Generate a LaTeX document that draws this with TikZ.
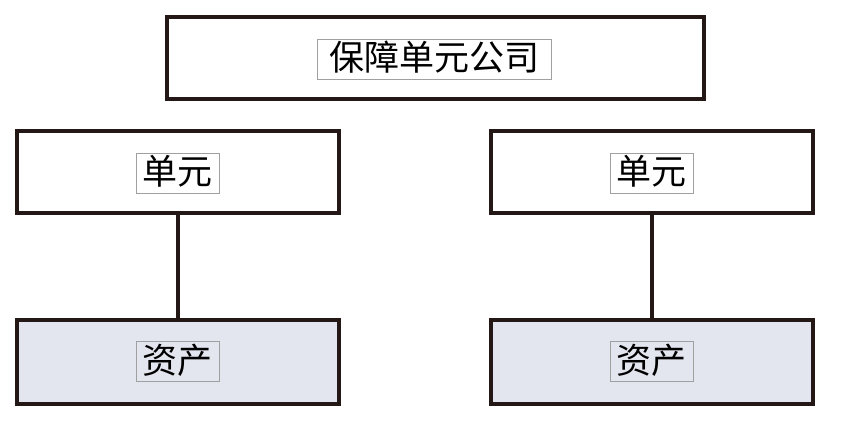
\documentclass[tikz,border=0pt]{standalone}
\usepackage{fontspec}
\newfontfamily\cjk{Noto Sans CJK SC}
\definecolor{frame}{HTML}{231815}
\definecolor{assetfill}{HTML}{E4E6EF}
\definecolor{lblframe}{HTML}{A0A0A0}
\tikzset{
  box/.style={draw=frame, line width=4pt, fill=white, minimum width=322pt, minimum height=82pt, inner sep=0pt},
  topbox/.style={box, minimum width=537pt},
  assetbox/.style={box, fill=assetfill, minimum height=84pt},
  lbl/.style={draw=lblframe, line width=0.8pt, inner sep=0pt, minimum height=40pt, font=\cjk\fontsize{35}{35}\selectfont, text height=29pt, text depth=6pt},
  conn/.style={draw=frame, line width=4pt}
}
\begin{document}
\begin{tikzpicture}[x=1pt, y=-1pt]
\useasboundingbox (0,0) rectangle (846,429);
\node[topbox] (top) at (435.5,58) {};
\node[box] (ul) at (178,172) {};
\node[box] (ur) at (652,172) {};
\node[assetbox] (al) at (178,362) {};
\node[assetbox] (ar) at (652,362) {};
\draw[conn] (ul.south) -- (al.north);
\draw[conn] (ur.south) -- (ar.north);
\node[lbl, minimum width=234pt] (ttop) at (434,59) {保障单元公司};
\node[lbl, minimum width=83pt] (tul) at (177.5,173) {单元};
\node[lbl, minimum width=83pt] (tur) at (651.5,173) {单元};
\node[lbl, minimum width=83pt] (tal) at (177.5,361.5) {资产};
\node[lbl, minimum width=83pt] (tar) at (651.5,361.5) {资产};
\end{tikzpicture}
\end{document}
